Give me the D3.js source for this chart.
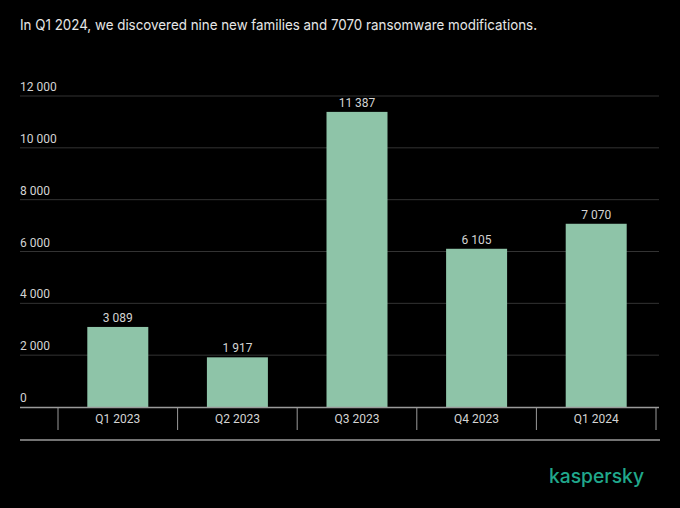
<!DOCTYPE html>
<html><head><meta charset="utf-8">
<script src="https://cdn.jsdelivr.net/npm/d3@7"></script>
<style>html,body{margin:0;padding:0;background:#000;}svg{display:block;}</style>
</head><body>
<svg id="c" width="680" height="508"></svg>
<script>
const categories = ["Q1 2023","Q2 2023","Q3 2023","Q4 2023","Q1 2024"];
const values = [3089, 1917, 11387, 6105, 7070];
const valueLabels = ["3 089","1 917","11 387","6 105","7 070"];
const yTicks = [0, 2000, 4000, 6000, 8000, 10000, 12000];
const yTickLabels = ["0","2 000","4 000","6 000","8 000","10 000","12 000"];
const title = "In Q1 2024, we discovered nine new families and 7070 ransomware modifications.";

const svg = d3.select("#c");
const font = "Roboto, 'Noto Sans', sans-serif";
const textCol = "#d4d4d4";

const y = d3.scaleLinear().domain([0, 12000]).range([407, 96]);
const x = d3.scaleBand().domain(categories).range([58, 656]).paddingInner(0.49).paddingOuter(0.245);

svg.append("rect").attr("width",680).attr("height",508).attr("fill","#000");

svg.append("text").attr("x",20).attr("y",29.5).text(title)
  .attr("fill","#e6e6e6").attr("font-family","Inter, Roboto, sans-serif").attr("font-size",14.5)
  .attr("textLength",517).attr("lengthAdjust","spacingAndGlyphs");

// gridlines
const g = svg.append("g");
yTicks.forEach((t,i)=>{
  if (t>0) g.append("line").attr("x1",20).attr("x2",659).attr("y1",y(t)).attr("y2",y(t))
    .attr("stroke","#333").attr("stroke-width",1);
  g.append("text").attr("x",20).attr("y",y(t)-5).text(yTickLabels[i])
    .attr("fill",textCol).attr("font-family",font).attr("font-size",12);
});

// bars
svg.append("g").selectAll("rect").data(values).join("rect")
  .attr("x",(d,i)=>x(categories[i])).attr("width",x.bandwidth())
  .attr("y",d=>y(d)).attr("height",d=>y(0)-y(d)).attr("fill","#8ec4a8");

svg.append("g").selectAll("text").data(values).join("text")
  .attr("x",(d,i)=>x(categories[i])+x.bandwidth()/2).attr("y",d=>y(d)-5)
  .attr("text-anchor","middle").text((d,i)=>valueLabels[i])
  .attr("fill",textCol).attr("font-family",font).attr("font-size",12);

// x axis
const band = x.step();
svg.append("line").attr("x1",20).attr("x2",659).attr("y1",407.5).attr("y2",407.5).attr("stroke","#9a9a9a").attr("stroke-width",1.5);
const edges = categories.map(c=>x(c)-x.paddingInner()*band/2).concat([x(categories[categories.length-1])+x.bandwidth()+x.paddingInner()*band/2]);
edges.forEach(e=>svg.append("line").attr("x1",e).attr("x2",e).attr("y1",407).attr("y2",430).attr("stroke","#9a9a9a").attr("stroke-width",1));
svg.append("g").selectAll("text").data(categories).join("text")
  .attr("x",d=>x(d)+x.bandwidth()/2).attr("y",423).attr("text-anchor","middle").text(d=>d)
  .attr("fill",textCol).attr("font-family",font).attr("font-size",12);
svg.append("line").attr("x1",20).attr("x2",660).attr("y1",440).attr("y2",440).attr("stroke","#9a9a9a").attr("stroke-width",1.5);

svg.append("text").attr("x",549).attr("y",483).text("kaspersky")
  .attr("fill","#20a88c").attr("font-family","Inter, Roboto, sans-serif").attr("font-size",20).attr("font-weight",500)
  .attr("textLength",95).attr("lengthAdjust","spacingAndGlyphs");
</script>
</body></html>
